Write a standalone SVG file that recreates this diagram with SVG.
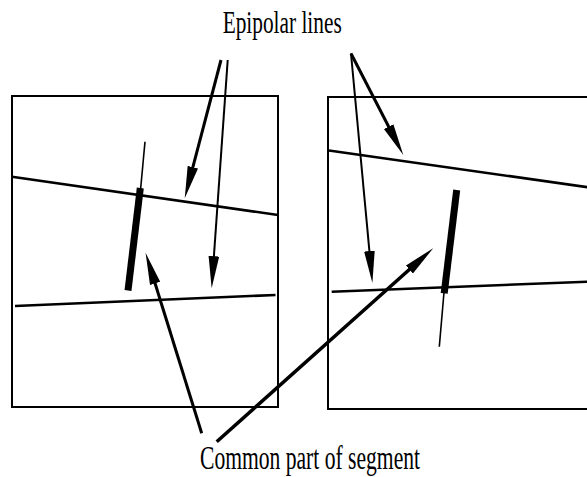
<svg xmlns="http://www.w3.org/2000/svg" width="587" height="477" viewBox="0 0 587 477">
<style>
.box{fill:none;stroke:#000;stroke-width:2}
.epi{stroke:#000;stroke-width:2.6;fill:none}
.seg{stroke:#000;stroke-width:7}
.thin{stroke:#000;stroke-width:1.6}
.arr{stroke:#000;fill:none;marker-end:url(#ah)}
.lbl{font-family:"Liberation Serif","Times New Roman",serif;fill:#000}
</style>
<defs>
<marker id="ah" markerUnits="userSpaceOnUse" markerWidth="32" markerHeight="12" viewBox="0 0 30 10" refX="12" refY="5" orient="auto">
<path d="M0,0 L30,5 L0,10 z" fill="#000"/>
</marker>
</defs>
<rect width="587" height="477" fill="#fff"/>
<g id="left-image">
<rect class="box" x="12" y="96" width="266" height="311"/>
<line class="epi" x1="12" y1="176.7" x2="278" y2="215"/>
<line class="epi" x1="15" y1="306" x2="275.5" y2="295"/>
<line class="thin" x1="145" y1="141.7" x2="140.5" y2="190"/>
<line class="seg" x1="140.3" y1="188" x2="128" y2="290.5"/>
</g>
<g id="right-image">
<rect class="box" x="328" y="97" width="270" height="312"/>
<line class="epi" x1="329" y1="150.5" x2="600" y2="189"/>
<line class="epi" x1="331.7" y1="291.7" x2="600" y2="281.2"/>
<line class="thin" x1="444.2" y1="290" x2="439.3" y2="346.7"/>
<line class="seg" x1="456.7" y1="190" x2="444.2" y2="293.3"/>
</g>
<g id="label-epipolar">
<text class="lbl" font-size="31" x="222.7" y="32.5" textLength="119" lengthAdjust="spacingAndGlyphs">Epipolar lines</text>
</g>
<g id="label-common">
<text class="lbl" font-size="33" x="200" y="468.5" textLength="220" lengthAdjust="spacingAndGlyphs">Common part of segment</text>
</g>
<g id="connectors">
<line class="arr" stroke-width="3" x1="221" y1="60" x2="189.6" y2="179.6"/>
<line class="arr" stroke-width="2" x1="227.7" y1="60" x2="213" y2="269"/>
<line class="arr" stroke-width="3" x1="351" y1="53.5" x2="394.5" y2="138"/>
<line class="arr" stroke-width="2" x1="351" y1="53.5" x2="370.6" y2="263.8"/>
<line class="arr" stroke-width="3" x1="201.7" y1="433.3" x2="151.3" y2="271.2"/>
<line class="arr" stroke-width="3.5" x1="216.7" y1="441.7" x2="418.9" y2="261"/>
</g>
</svg>
